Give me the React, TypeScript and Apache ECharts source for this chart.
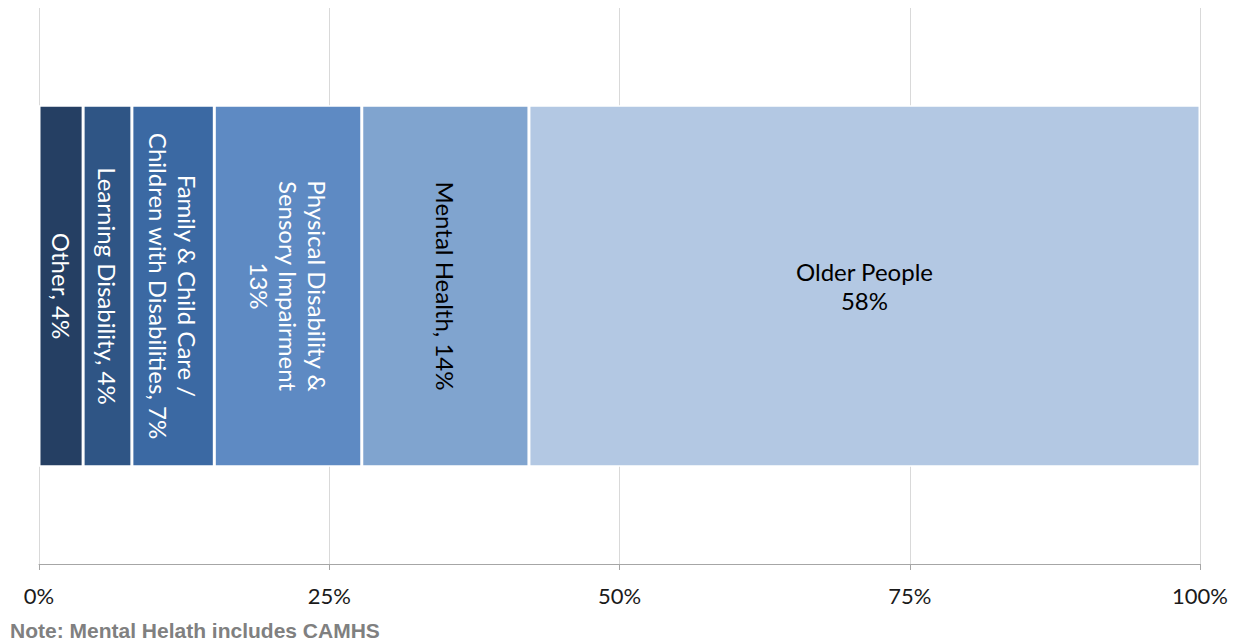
import React, { useEffect, useRef } from "react";
import * as echarts from "echarts";

const categories = ["Services"];
const seriesNames = [
  "Other",
  "Learning Disability",
  "Family & Child Care / Children with Disabilities",
  "Physical Disability & Sensory Impairment",
  "Mental Health",
  "Older People",
];
const seriesValues = [3.8, 4.2, 7.1, 12.7, 14.4, 57.8];
const labelLines = [
  ["Other, {p}"],
  ["Learning Disability, {p}"],
  ["Family & Child Care /", "Children with Disabilities, {p}"],
  ["Physical Disability &", "Sensory Impairment", "{p}"],
  ["Mental Health, {p}"],
  ["Older People", "{p}"],
];
const colors = ["#253F63", "#2F5585", "#3B69A3", "#5E8AC3", "#80A4CF", "#B3C8E3"];
const labelColors = ["#ffffff", "#ffffff", "#ffffff", "#ffffff", "#000000", "#000000"];
const labelRotate = [-90, -90, -90, -90, -90, 0];
const xTicks = [0, 25, 50, 75, 100];
const note = "Note: Mental Helath includes CAMHS";

export default function App() {
  const ref = useRef<HTMLDivElement>(null);
  useEffect(() => {
    if (!ref.current) return;
    const chart = echarts.init(ref.current, null, { renderer: "svg" });
    const series = seriesNames.map((name, i) => ({
      name,
      type: "bar",
      stack: "total",
      barWidth: "65%",
      data: [seriesValues[i]],
      itemStyle: { color: colors[i], borderColor: "#ffffff", borderWidth: 1.5 },
      label: {
        show: true,
        position: "inside",
        rotate: labelRotate[i],
        color: labelColors[i],
        fontFamily: "Lato",
        fontSize: 24,
        lineHeight: 29,
        align: "center",
        verticalAlign: "middle",
        formatter: () =>
          labelLines[i].map((l) => l.replace("{p}", Math.round(seriesValues[i]) + "%")).join("\n"),
      },
    }));
    chart.setOption({
      animation: false,
      grid: { left: 39, right: 43, top: 8, bottom: 80, containLabel: false },
      xAxis: {
        type: "value",
        min: xTicks[0],
        max: xTicks[xTicks.length - 1],
        interval: 25,
        axisLine: { show: true, lineStyle: { color: "#A6A6A6", width: 1 } },
        axisTick: { show: true, length: 6, lineStyle: { color: "#A6A6A6" } },
        splitLine: { show: true, lineStyle: { color: "#D9D9D9", width: 1 } },
        axisLabel: {
          formatter: "{value}%",
          color: "#1a1a1a",
          fontFamily: "Lato",
          fontSize: 22,
          margin: 20,
        },
      },
      yAxis: {
        type: "category",
        data: categories,
        show: false,
      },
      series,
      graphic: [
        {
          type: "text",
          left: 10,
          top: 620,
          style: {
            text: note,
            fill: "#808080",
            font: "bold 21px 'Liberation Sans', Arial, sans-serif",
          },
        },
      ],
    });
    return () => chart.dispose();
  }, []);
  return (
    <div
      ref={ref}
      style={{ position: "fixed", left: 0, top: 0, width: 1243, height: 644, background: "#fff" }}
    />
  );
}
